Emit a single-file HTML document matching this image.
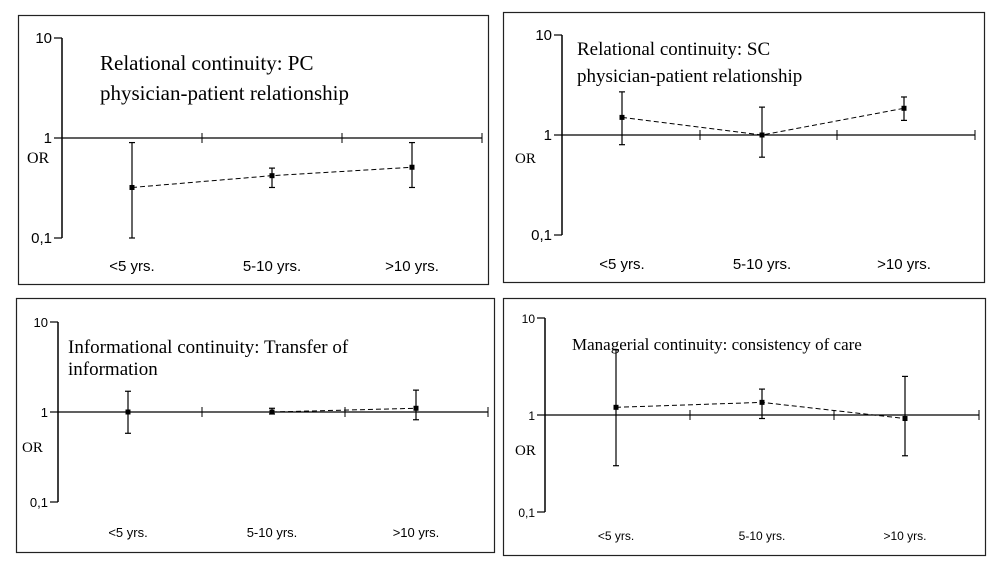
<!DOCTYPE html>
<html><head><meta charset="utf-8"><style>
html,body{margin:0;padding:0;background:#fff;width:1000px;height:566px;overflow:hidden}
svg text{fill:#000}
</style></head><body>
<svg id="c" width="1000" height="566" xmlns="http://www.w3.org/2000/svg"></svg>
<script>
const categories = ["<5 yrs.", "5-10 yrs.", ">10 yrs."];
const yTickLabels = ["10", "1", "0,1"];
const yTickValues = [10, 1, 0.1];
const pcOR = [0.32, 0.42, 0.51];
const pcLow = [0.1, 0.32, 0.32];
const pcHigh = [0.9, 0.5, 0.9];
const scOR = [1.5, 1.0, 1.85];
const scLow = [0.8, 0.6, 1.4];
const scHigh = [2.7, 1.9, 2.4];
const infoOR = [1.0, 1.0, 1.1];
const infoLow = [0.58, 0.95, 0.82];
const infoHigh = [1.7, 1.1, 1.75];
const mgOR = [1.2, 1.35, 0.92];
const mgLow = [0.3, 0.92, 0.38];
const mgHigh = [4.7, 1.85, 2.5];

const NS = "http://www.w3.org/2000/svg";
const svg = document.getElementById("c");
function mk(tag, attrs, parent){const e=document.createElementNS(NS,tag);for(const k in attrs)e.setAttribute(k,attrs[k]);(parent||svg).appendChild(e);return e;}

const panels = [
 {name:"pc",box:[18,15,470,269],ax:62,y10:38,y1:138,y01:238,xEnd:482,ticks:[202,342,482],px:[132,272,412],labY:271,lab:{font:"Liberation Sans",size:15},
  title:["Relational continuity: PC","physician-patient relationship"],tx:100,ty:[70,100],ts:21,or:[27,163],orS:16,tl:15,
  v:pcOR,lo:pcLow,hi:pcHigh},
 {name:"sc",box:[503,12,481,270],ax:562,y10:35,y1:135,y01:235,xEnd:975,ticks:[700,837,975],px:[622,762,904],labY:269,lab:{font:"Liberation Sans",size:15},
  title:["Relational continuity: SC","physician-patient relationship"],tx:577,ty:[55,82],ts:19,or:[515,163],orS:15,tl:15,
  v:scOR,lo:scLow,hi:scHigh},
 {name:"info",box:[16,298,478,254],ax:58,y10:322,y1:412,y01:502,xEnd:488,ticks:[202,345,488],px:[128,272,416],labY:537,lab:{font:"Liberation Sans",size:13},
  title:["Informational continuity: Transfer of","information"],tx:68,ty:[353,375],ts:19,or:[22,452],orS:15,tl:13,
  v:infoOR,lo:infoLow,hi:infoHigh},
 {name:"managerial",box:[503,298,482,257],ax:545,y10:318,y1:415,y01:512,xEnd:979,ticks:[690,834,979],px:[616,762,905],labY:540,lab:{font:"Liberation Sans",size:12},
  title:["Managerial continuity: consistency of care"],tx:572,ty:[350],ts:17,or:[515,455],orS:15,tl:12,
  v:mgOR,lo:mgLow,hi:mgHigh}
];

panels.forEach(p=>{
  const g = mk("g",{});
  
  
  const r = mk("rect",{x:p.box[0]+.5,y:p.box[1]+.5,width:p.box[2],height:p.box[3],fill:"none",stroke:"#222","stroke-width":1.2},g);
  
  
  const dec = (p.y01-p.y1);
  const yS = v => p.y1 - Math.log10(v)*dec;
  const ya = mk("line",{x1:p.ax,y1:yS(10),x2:p.ax,y2:yS(0.1),stroke:"#000","stroke-width":1.5},g);
  
  
  yTickValues.forEach((tv,i)=>{
    const y=yS(tv);
    mk("line",{x1:p.ax-8,y1:y,x2:p.ax,y2:y,stroke:"#000","stroke-width":1.2},g);
    const t=mk("text",{x:p.ax-10,y:y+5,"text-anchor":"end","font-family":"Liberation Sans, sans-serif","font-size":p.tl},g);
    t.textContent=yTickLabels[i];
    
    
  });
  const xa = mk("line",{x1:p.ax,y1:yS(1),x2:p.xEnd,y2:yS(1),stroke:"#000","stroke-width":1.2},g);
  
  
  p.ticks.forEach(tx=>mk("line",{x1:tx,y1:yS(1)-5,x2:tx,y2:yS(1)+5,stroke:"#000","stroke-width":1},g));
  const or=mk("text",{x:p.or[0],y:p.or[1],"font-family":"Liberation Serif, serif","font-size":p.orS},g);
  or.textContent="OR";
  
  
  p.title.forEach((line,i)=>{
    const t=mk("text",{x:p.tx,y:p.ty[i],"font-family":"Liberation Serif, serif","font-size":p.ts},g);
    t.textContent=line;
    
    
  });
  categories.forEach((c,i)=>{
    const t=mk("text",{x:p.px[i],y:p.labY,"text-anchor":"middle","font-family":p.lab.font+", sans-serif","font-size":p.lab.size},g);
    t.textContent=c;
    
    
  });
  const pts=p.v.map((v,i)=>p.px[i]+","+yS(v)).join(" ");
  const pl=mk("polyline",{points:pts,fill:"none",stroke:"#000","stroke-width":1,"stroke-dasharray":"5,3"},g);
  
  
  p.v.forEach((v,i)=>{
    const x=p.px[i], yl=yS(p.lo[i]), yh=yS(p.hi[i]);
    const eb=mk("g",{},g);
    
    
    mk("line",{x1:x,y1:yl,x2:x,y2:yh,stroke:"#000","stroke-width":1.2},eb);
    mk("line",{x1:x-3,y1:yl,x2:x+3,y2:yl,stroke:"#000","stroke-width":1.2},eb);
    mk("line",{x1:x-3,y1:yh,x2:x+3,y2:yh,stroke:"#000","stroke-width":1.2},eb);
    const m=mk("rect",{x:x-2.5,y:yS(v)-2.5,width:5,height:5,fill:"#000"},g);
    
    
  });
});
</script>
</body></html>
